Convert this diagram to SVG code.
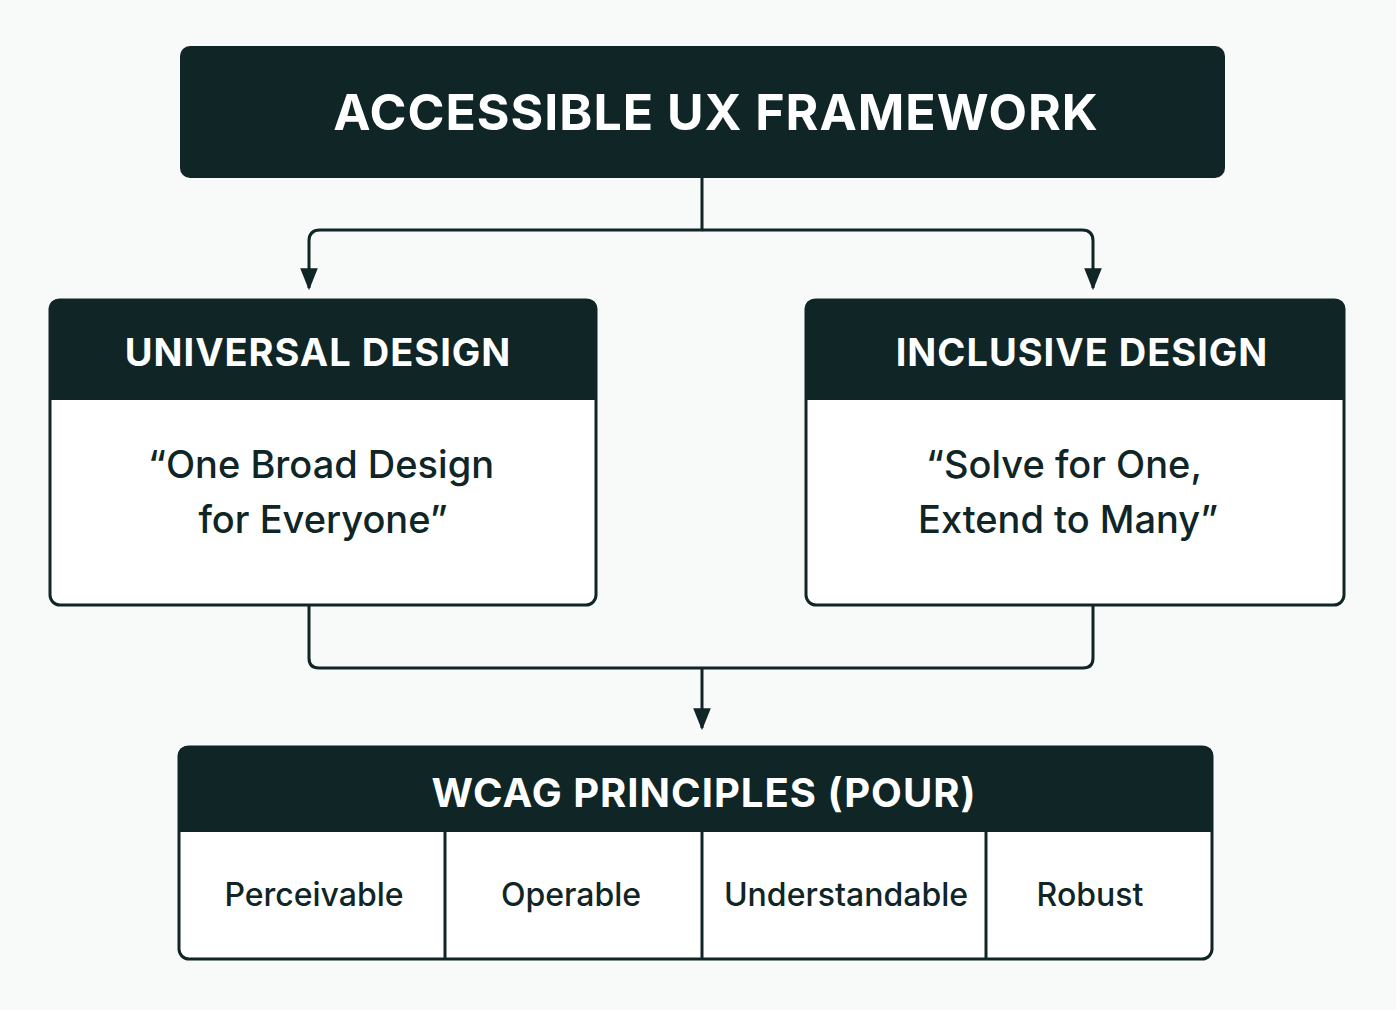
<svg xmlns="http://www.w3.org/2000/svg" width="1396" height="1010" viewBox="0 0 1396 1010">
<defs>
<style>
.hd{fill:#0f2526}
.bx{fill:#fff;stroke:#0f2526;stroke-width:3}
.ln{fill:none;stroke:#0f2526;stroke-width:3;stroke-linejoin:round}
.t{font-family:Inter,"Liberation Sans",sans-serif;text-anchor:middle}
.w{fill:#fff;font-weight:700}
.b{fill:#0f2526;font-weight:500}
</style>
<marker id="ar" markerWidth="10" markerHeight="10" refX="5" refY="5" orient="auto" markerUnits="userSpaceOnUse" viewBox="0 0 10 10"><path d="M0,0L10,5L0,10z" fill="#0f2526" transform="scale(1)"/></marker>
<marker id="a2" viewBox="0 0 20 16" markerWidth="22" markerHeight="18" refX="18" refY="8" orient="auto" markerUnits="userSpaceOnUse"><path d="M0,0L20,8L0,16z" fill="#0f2526"/></marker>
</defs>
<rect width="1396" height="1010" fill="#f8f9f9"/>
<g id="connectors">
<path class="ln" d="M702,178V230H320Q309,230 309,241V288" marker-end="url(#a2)"/>
<path class="ln" d="M702,230H1082Q1093,230 1093,241V288" marker-end="url(#a2)"/>
<path class="ln" d="M309,606V658Q309,668 319,668H1083Q1093,668 1093,658V606"/>
<path class="ln" d="M702,668V728" marker-end="url(#a2)"/>
</g>
<g id="top">
<rect class="hd" x="180" y="46" width="1045" height="132" rx="10"/>
<text class="t w" x="716" y="130" font-size="50" letter-spacing="1">ACCESSIBLE UX FRAMEWORK</text>
</g>
<g id="universal">
<rect class="bx" x="50" y="300" width="546" height="305" rx="10"/>
<path class="hd" d="M60,299H587Q597,299 597,309V400H49V309Q49,299 60,299z"/>
<text class="t w" x="318" y="366" font-size="38" letter-spacing="1">UNIVERSAL DESIGN</text>
<text class="t b" x="321" y="478" font-size="38">“One Broad Design</text>
<text class="t b" x="323" y="533" font-size="38">for Everyone”</text>
</g>
<g id="inclusive">
<rect class="bx" x="806" y="300" width="538" height="305" rx="10"/>
<path class="hd" d="M815,299H1335Q1345,299 1345,309V400H805V309Q805,299 815,299z"/>
<text class="t w" x="1082" y="366" font-size="38" letter-spacing="1">INCLUSIVE DESIGN</text>
<text class="t b" x="1064" y="478" font-size="38">“Solve for One,</text>
<text class="t b" x="1068" y="533" font-size="38">Extend to Many”</text>
</g>
<g id="wcag">
<rect class="bx" x="179" y="747" width="1033" height="212" rx="10"/>
<path class="hd" d="M188,746H1203Q1213,746 1213,756V832H178V756Q178,746 188,746z"/>
<text class="t w" x="704" y="807" font-size="40" letter-spacing="1">WCAG PRINCIPLES (POUR)</text>
<path class="ln" d="M445,832V959M702,832V959M986,832V959"/>
<text class="t b" x="314" y="906" font-size="32">Perceivable</text>
<text class="t b" x="571" y="906" font-size="32">Operable</text>
<text class="t b" x="846" y="906" font-size="32">Understandable</text>
<text class="t b" x="1090" y="906" font-size="32">Robust</text>
</g>
</svg>
